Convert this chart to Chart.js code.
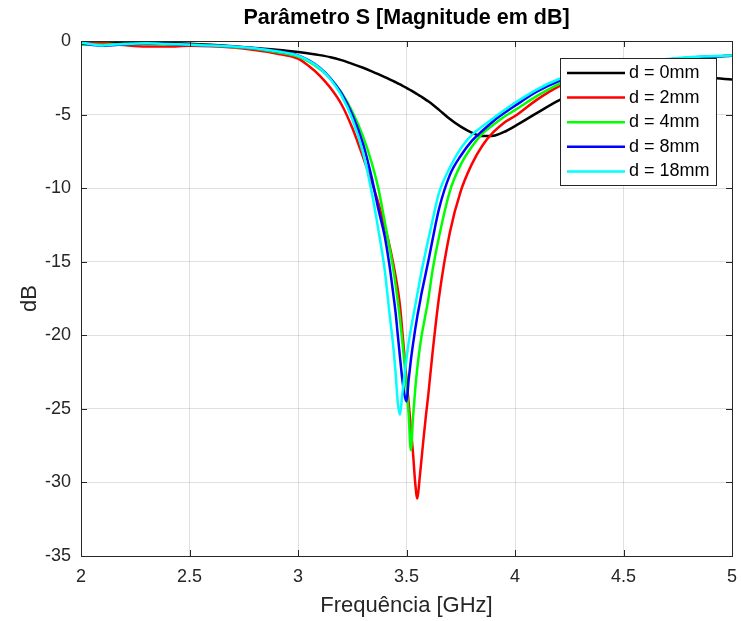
<!DOCTYPE html>
<html>
<head>
<meta charset="utf-8">
<script src="https://cdn.jsdelivr.net/npm/chart.js@4.4.1/dist/chart.umd.min.js"></script>
<style>
  body { margin: 0; background: #fff; }
  canvas { display: block; }
</style>
</head>
<body>
<canvas id="myChart" width="741" height="621"></canvas>
<script>
"use strict";

// frequency samples [GHz]
var freq = [2.0, 2.1, 2.2, 2.3, 2.4, 2.5, 2.6, 2.7, 2.8, 2.9, 3.0,
    3.05, 3.1, 3.15, 3.2, 3.25, 3.3, 3.34, 3.37, 3.40, 3.42, 3.44,
    3.45, 3.46, 3.47, 3.48, 3.49, 3.50, 3.51, 3.52, 3.53, 3.54, 3.55, 3.56, 3.57, 3.58, 3.59, 3.60,
    3.62, 3.65, 3.70, 3.75, 3.80, 3.85, 3.90, 3.95,
    4.0, 4.1, 4.2, 4.3, 4.4, 4.5, 4.6, 4.7, 4.8, 4.9, 5.0];

// S11 [dB] for each spacing d
var d0 = [-0.05, -0.1, -0.1, -0.12, -0.15, -0.18, -0.25, -0.35, -0.48, -0.6, -0.75,
    -0.85, -0.96, -1.1, -1.3, -1.55, -1.82, -2.06, -2.25, -2.45, -2.59, -2.73,
    -2.8, -2.88, -2.95, -3.03, -3.11, -3.19, -3.27, -3.35, -3.44, -3.53, -3.62, -3.71, -3.8, -3.9, -4.0, -4.1,
    -4.32, -4.68, -5.3, -5.82, -6.22, -6.46, -6.44, -6.18,
    -5.78, -4.9, -4.05, -3.4, -2.95, -2.65, -2.45, -2.4, -2.42, -2.5, -2.62];
var d2 = [-0.02, -0.12, -0.28, -0.38, -0.38, -0.32, -0.35, -0.45, -0.62, -0.85, -1.2,
    -1.7, -2.35, -3.2, -4.3, -5.9, -7.9, -9.6, -11.0, -12.6, -13.8, -15.2,
    -16.0, -16.9, -18.0, -19.6, -21.3, -23.0, -24.6, -26.3, -28.0, -30.0, -31.1, -29.8, -28.3, -26.8, -25.4, -24.1,
    -21.2, -17.4, -13.0, -10.2, -8.4, -7.1, -6.2, -5.55,
    -5.1, -4.0, -3.1, -2.5, -2.05, -1.72, -1.5, -1.3, -1.17, -1.08, -1.0];
var d4 = [-0.25, -0.25, -0.2, -0.2, -0.22, -0.25, -0.3, -0.4, -0.52, -0.75, -1.05,
    -1.4, -1.9, -2.55, -3.5, -4.8, -6.5, -8.3, -10.0, -12.3, -13.9, -15.6,
    -16.6, -17.7, -18.9, -20.3, -21.8, -23.5, -25.4, -27.8, -25.6, -23.7, -22.2, -21.0, -20.0, -19.2, -18.4, -17.6,
    -15.6, -13.3, -10.2, -8.4, -7.2, -6.3, -5.7, -5.15,
    -4.7, -3.75, -2.95, -2.4, -1.98, -1.68, -1.46, -1.3, -1.16, -1.07, -1.0];
var d8 = [-0.15, -0.32, -0.22, -0.17, -0.2, -0.25, -0.3, -0.38, -0.5, -0.7, -0.98,
    -1.32, -1.82, -2.55, -3.55, -5.0, -7.0, -9.3, -11.4, -13.3, -15.1, -17.3,
    -18.5, -20.0, -21.5, -22.9, -24.0, -24.5, -23.0, -21.7, -20.6, -19.6, -18.7, -17.9, -17.1, -16.4, -15.7, -15.0,
    -13.5, -11.4, -9.1, -7.8, -6.8, -6.1, -5.45, -4.9,
    -4.4, -3.45, -2.75, -2.25, -1.88, -1.6, -1.4, -1.25, -1.13, -1.05, -1.0];
var d18 = [-0.1, -0.3, -0.2, -0.15, -0.2, -0.25, -0.3, -0.38, -0.5, -0.7, -1.0,
    -1.35, -1.85, -2.6, -3.7, -5.3, -7.6, -10.3, -12.8, -15.6, -18.3, -20.9,
    -22.6, -24.6, -25.4, -24.1, -22.8, -21.6, -20.5, -19.6, -18.8, -18.0, -17.2, -16.4, -15.6, -14.9, -14.2, -13.5,
    -12.2, -10.3, -8.6, -7.3, -6.4, -5.8, -5.25, -4.7,
    -4.2, -3.3, -2.6, -2.12, -1.8, -1.55, -1.36, -1.22, -1.1, -1.04, -0.98];

var seriesNames = ["d = 0mm", "d = 2mm", "d = 4mm", "d = 8mm", "d = 18mm"];
var seriesData = [d0, d2, d4, d8, d18];
var seriesColors = ["#000000", "#ff0000", "#00ff00", "#0000ff", "#00ffff"];

var axisColor = "#262626";
var font = "'Liberation Sans', Arial, Helvetica, sans-serif";

function toPoints(vals) {
    return freq.map(function (f, i) { return { x: f, y: vals[i] }; });
}

// box, inward ticks and legend, drawn like the MATLAB figure
var matlabFrame = {
    id: "matlabFrame",
    afterDraw: function (chart) {
        var ctx = chart.ctx;
        var a = chart.chartArea;
        var xs = chart.scales.x, ys = chart.scales.y;
        ctx.save();
        ctx.strokeStyle = axisColor;
        ctx.lineWidth = 1;
        ctx.strokeRect(Math.round(a.left) + 0.5, Math.round(a.top) + 0.5,
            Math.round(a.right - a.left), Math.round(a.bottom - a.top));
        ctx.beginPath();
        xs.ticks.forEach(function (t) {
            var px = Math.round(xs.getPixelForValue(t.value)) + 0.5;
            ctx.moveTo(px, a.bottom); ctx.lineTo(px, a.bottom - 6);
            ctx.moveTo(px, a.top); ctx.lineTo(px, a.top + 6);
        });
        ys.ticks.forEach(function (t) {
            var py = Math.round(ys.getPixelForValue(t.value)) + 0.5;
            ctx.moveTo(a.left, py); ctx.lineTo(a.left + 6, py);
            ctx.moveTo(a.right, py); ctx.lineTo(a.right - 6, py);
        });
        ctx.stroke();

        // legend
        var bx = 560.5, by = 58.5, bw = 156, bh = 127;
        ctx.fillStyle = "#fff";
        ctx.fillRect(bx, by, bw, bh);
        ctx.strokeStyle = axisColor;
        ctx.strokeRect(bx, by, bw, bh);
        ctx.font = "18px " + font;
        ctx.textBaseline = "middle";
        ctx.textAlign = "left";
        seriesNames.forEach(function (name, i) {
            var yy = 73 + i * 24.6;
            ctx.strokeStyle = seriesColors[i];
            ctx.lineWidth = 2.5;
            ctx.beginPath();
            ctx.moveTo(567, yy); ctx.lineTo(625, yy);
            ctx.stroke();
            ctx.fillStyle = "#000";
            ctx.fillText(name, 629, yy);
        });
        ctx.restore();
    }
};

var ctx = document.getElementById("myChart");
var myChart = new Chart(ctx, {
    type: "line",
    data: {
        datasets: seriesNames.map(function (name, i) {
            return {
                label: name,
                data: toPoints(seriesData[i]),
                borderColor: seriesColors[i],
                borderWidth: 2.5,
                pointRadius: 0,
                fill: false,
                cubicInterpolationMode: "monotone",
                order: seriesNames.length - 1 - i
            };
        })
    },
    options: {
        responsive: false,
        animation: false,
        devicePixelRatio: 1,
        layout: { padding: { left: 0, right: 9, top: 0, bottom: 0 } },
        plugins: {
            legend: { display: false },
            tooltip: { enabled: false },
            title: {
                display: true,
                fullSize: false,
                text: "Parâmetro S [Magnitude em dB]",
                color: "#000",
                font: { family: font, size: 21.5, weight: "bold", lineHeight: 1.2 },
                padding: { top: 5, bottom: 10.2 }
            }
        },
        scales: {
            x: {
                type: "linear",
                min: 2,
                max: 5,
                afterFit: function (scale) {
                    scale.height = 65;
                    scale.paddingRight = 0;
                    scale.paddingLeft = 0;
                },
                ticks: {
                    stepSize: 0.5,
                    color: axisColor,
                    font: { family: font, size: 18 },
                    padding: 10,
                    maxRotation: 0,
                    callback: function (v) { return String(v); }
                },
                grid: { color: "rgba(0,0,0,0.12)", drawTicks: false },
                border: { display: false },
                title: {
                    display: true,
                    text: "Frequência [GHz]",
                    color: axisColor,
                    font: { family: font, size: 22, lineHeight: 1.2 },
                    padding: { top: 0, bottom: 2 }
                }
            },
            y: {
                min: -35,
                max: 0,
                afterFit: function (scale) { scale.width = 81; },
                ticks: {
                    stepSize: 5,
                    color: axisColor,
                    font: { family: font, size: 18 },
                    padding: 10
                },
                grid: { color: "rgba(0,0,0,0.12)", drawTicks: false },
                border: { display: false },
                title: {
                    display: true,
                    text: "dB",
                    color: axisColor,
                    font: { family: font, size: 22, lineHeight: 1.2 },
                    padding: { top: 17, bottom: 0 }
                }
            }
        }
    },
    plugins: [matlabFrame]
});
</script>
</body>
</html>
